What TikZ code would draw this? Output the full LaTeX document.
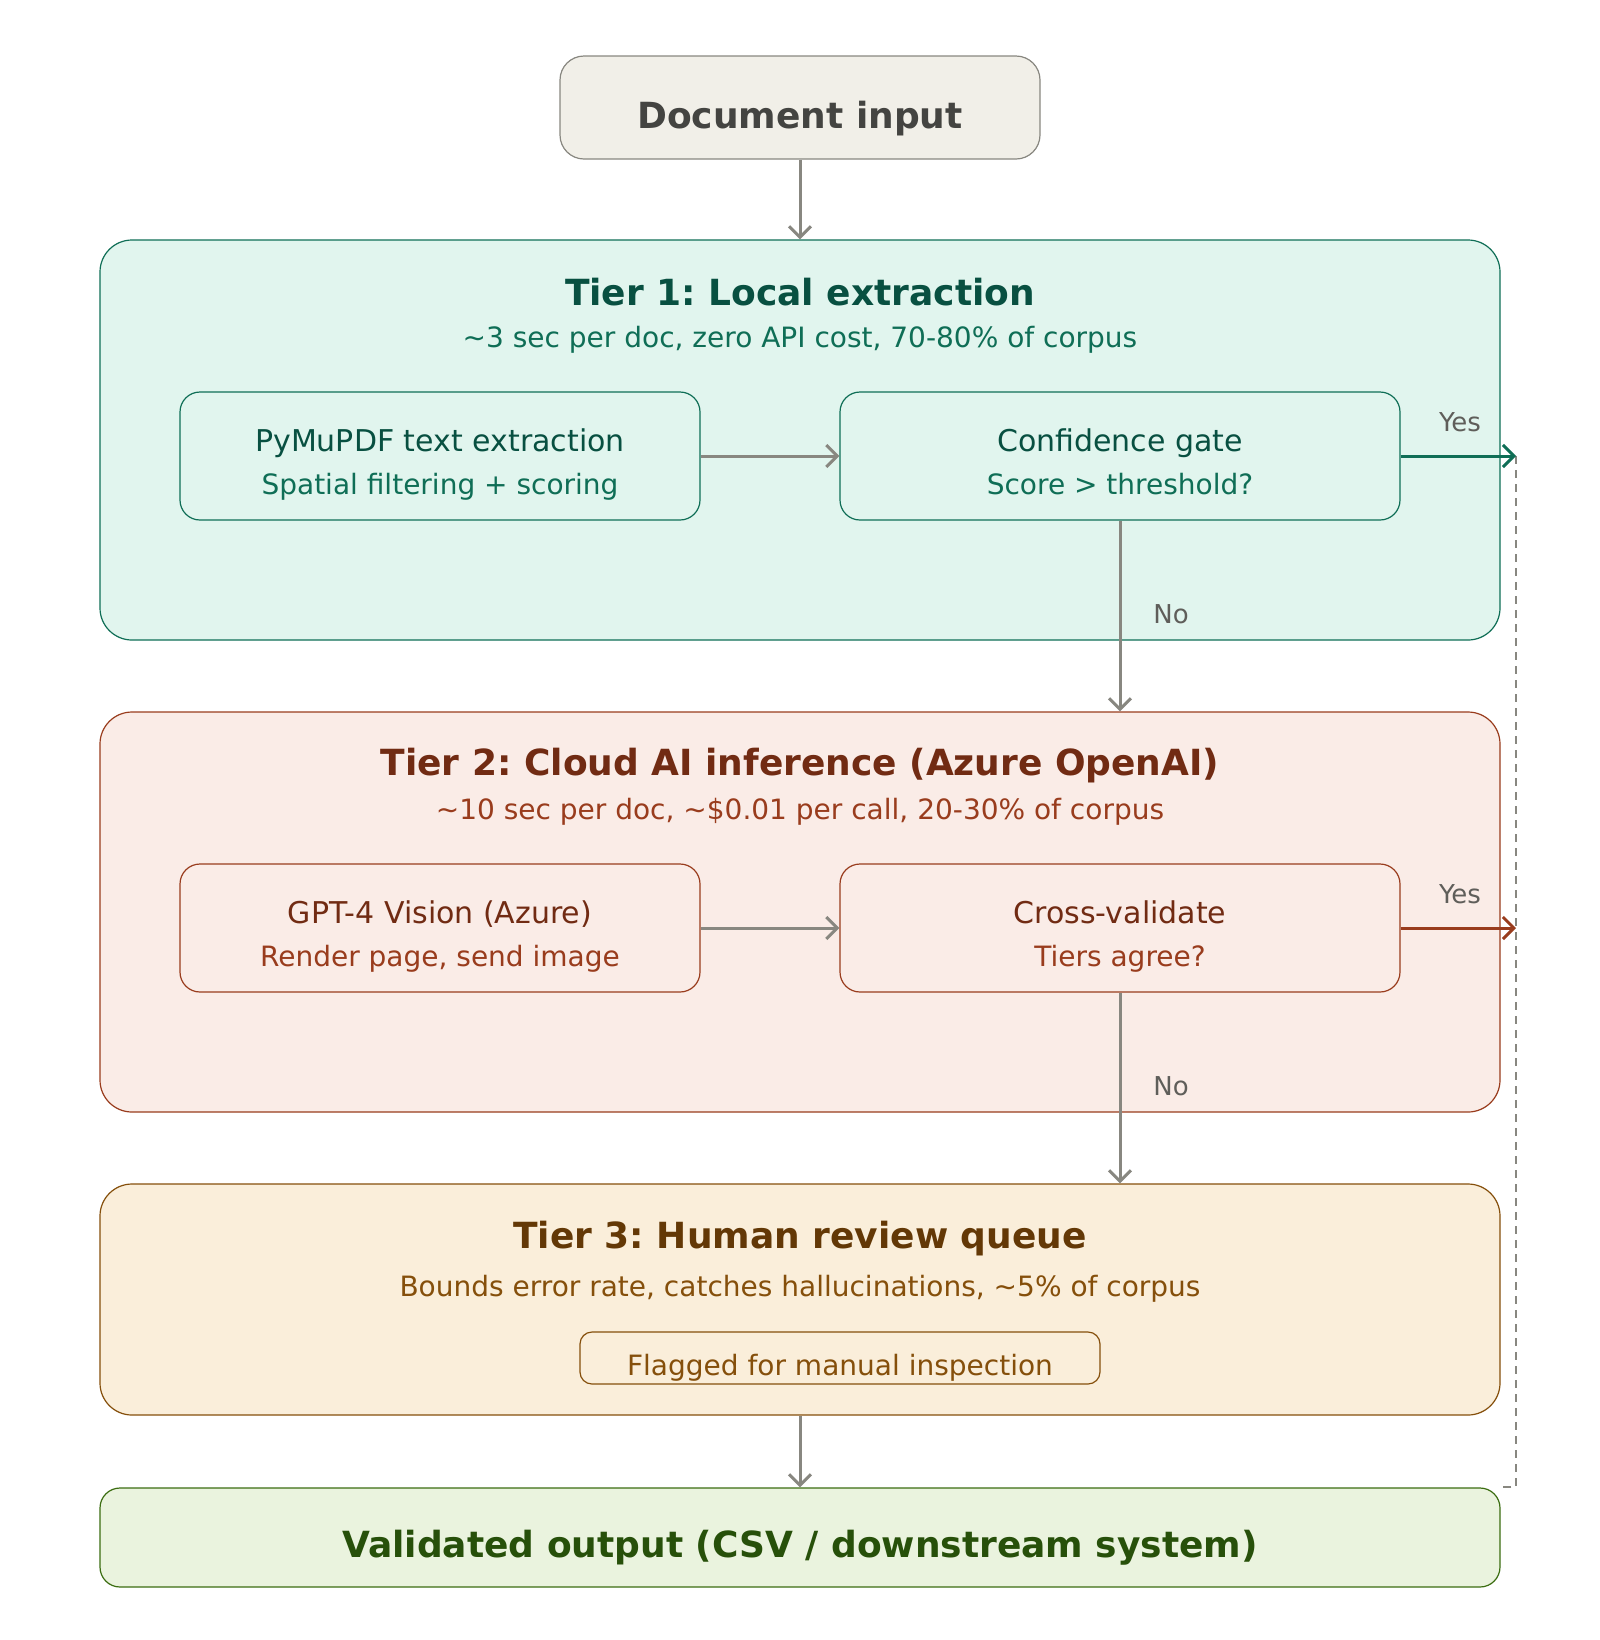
\documentclass[tikz,border=0pt]{standalone}
\usepackage{fontspec}
\setmainfont{DejaVu Sans}
\usetikzlibrary{arrows.meta}
\frenchspacing
\definecolor{docfill}{HTML}{F1EFE8}
\definecolor{docline}{HTML}{888780}
\definecolor{doctext}{HTML}{444441}
\definecolor{onefill}{HTML}{E1F5EE}
\definecolor{oneline}{HTML}{0F6E56}
\definecolor{onedark}{HTML}{085041}
\definecolor{twofill}{HTML}{FAECE7}
\definecolor{twoline}{HTML}{993C1D}
\definecolor{twodark}{HTML}{712B13}
\definecolor{threefill}{HTML}{FAEEDA}
\definecolor{threeline}{HTML}{854F0B}
\definecolor{threedark}{HTML}{633806}
\definecolor{outfill}{HTML}{EAF3DE}
\definecolor{outline}{HTML}{3B6D11}
\definecolor{outdark}{HTML}{27500A}
\definecolor{lblgray}{HTML}{5F5E5A}
\tikzset{
    box/.style={
        draw,
        line width=0.6pt,
        inner sep=0pt
    },
    tier/.style={
        box,
        rounded corners=16pt,
        minimum width=700pt
    },
    stage/.style={
        box,
        rounded corners=10pt,
        minimum height=64pt
    },
    txt/.style={
        anchor=base,
        inner sep=0pt
    },
    tiertitle/.style={
        txt,
        font=\fontsize{18}{21}\selectfont\bfseries
    },
    tiersub/.style={
        txt,
        font=\fontsize{14}{17}\selectfont
    },
    stagemain/.style={
        txt,
        font=\fontsize{15}{18}\selectfont
    },
    lbl/.style={
        txt,
        font=\fontsize{13}{16}\selectfont,
        text=lblgray
    },
    flow/.style={
        -{Straight Barb[length=5.5pt,width=11pt]},
        line width=1.5pt,
        draw=docline
    }
}

\begin{document}
\frenchspacing
\begin{tikzpicture}[x=0.5pt,y=-0.5pt]
\useasboundingbox (0,0) rectangle (1600,1640);

% input
\node[box,rounded corners=12pt,fill=docfill,draw=docline,minimum width=240pt,minimum height=51.5pt] (doc) at (800,107.5) {};
\node[tiertitle,text=doctext] (doctxt) at (800,128) {Document input};

% tier 1
\node[tier,fill=onefill,draw=oneline,minimum height=200pt] (tier1) at (800,440) {};
\node[tiertitle,text=onedark] (tier1title) at (800,305) {Tier 1: Local extraction};
\node[tiersub,text=oneline] (tier1sub) at (800,347) {\textasciitilde3 sec per doc, zero API cost, 70-80\% of corpus};
\node[stage,fill=onefill,draw=oneline,minimum width=260pt] (extract1) at (440,456) {};
\node[stagemain,text=onedark] (extract1a) at (440,451) {PyMuPDF text extraction};
\node[tiersub,text=oneline] (extract1b) at (440,494) {Spatial filtering + scoring};
\node[stage,fill=onefill,draw=oneline,minimum width=280pt] (gate1) at (1120,456) {};
\node[stagemain,text=onedark] (gate1a) at (1120,451) {Confidence gate};
\node[tiersub,text=oneline] (gate1b) at (1120,494) {Score > threshold?};

% tier 2
\node[tier,fill=twofill,draw=twoline,minimum height=200pt] (tier2) at (800,912) {};
\node[tiertitle,text=twodark] (tier2title) at (800,775) {Tier 2: Cloud AI inference (Azure OpenAI)};
\node[tiersub,text=twoline] (tier2sub) at (800,819) {\textasciitilde10 sec per doc, \textasciitilde\$0.01 per call, 20-30\% of corpus};
\node[stage,fill=twofill,draw=twoline,minimum width=260pt] (vision2) at (440,928) {};
\node[stagemain,text=twodark] (vision2a) at (440,923) {GPT-4 Vision (Azure)};
\node[tiersub,text=twoline] (vision2b) at (440,966) {Render page, send image};
\node[stage,fill=twofill,draw=twoline,minimum width=280pt] (gate2) at (1120,928) {};
\node[stagemain,text=twodark] (gate2a) at (1120,923) {Cross-validate};
\node[tiersub,text=twoline] (gate2b) at (1120,966) {Tiers agree?};

% tier 3
\node[tier,fill=threefill,draw=threeline,minimum height=115.5pt] (tier3) at (800,1299.5) {};
\node[tiertitle,text=threedark] (tier3title) at (800,1248) {Tier 3: Human review queue};
\node[tiersub,text=threeline] (tier3sub) at (800,1296) {Bounds error rate, catches hallucinations, \textasciitilde5\% of corpus};
\node[box,rounded corners=6pt,fill=threefill,draw=threeline,minimum width=260pt,minimum height=26pt] (flag) at (840,1358) {};
\node[tiersub,text=threeline] (flagtxt) at (840,1375) {Flagged for manual inspection};

% output
\node[box,rounded corners=10pt,fill=outfill,draw=outline,minimum width=700pt,minimum height=49.5pt] (output) at (800,1537.5) {};
\node[tiertitle,text=outdark] (outtxt) at (800,1557) {Validated output (CSV / downstream system)};

\coordinate (yes1) at (1516,456);
\coordinate (yes2) at (1516,928);

\draw[docline,line width=1pt,dash pattern=on 4pt off 3pt] (yes1) |- (output.north east);

\path[flow]
  (doc) edge (tier1)
  (extract1) edge (gate1)
  (gate1) edge (gate1 |- tier2.north)
  (vision2) edge (gate2)
  (gate2) edge (gate2 |- tier3.north)
  (tier3) edge (output);
\path[flow,draw=oneline] (gate1) edge (yes1);
\path[flow,draw=twoline] (gate2) edge (yes2);

\node[lbl] (yes1lbl) at (1460,431) {Yes};
\node[lbl] (yes2lbl) at (1460,903) {Yes};
\node[lbl,anchor=base west] (no1lbl) at (1153,623) {No};
\node[lbl,anchor=base west] (no2lbl) at (1153,1095) {No};
\end{tikzpicture}
\end{document}
